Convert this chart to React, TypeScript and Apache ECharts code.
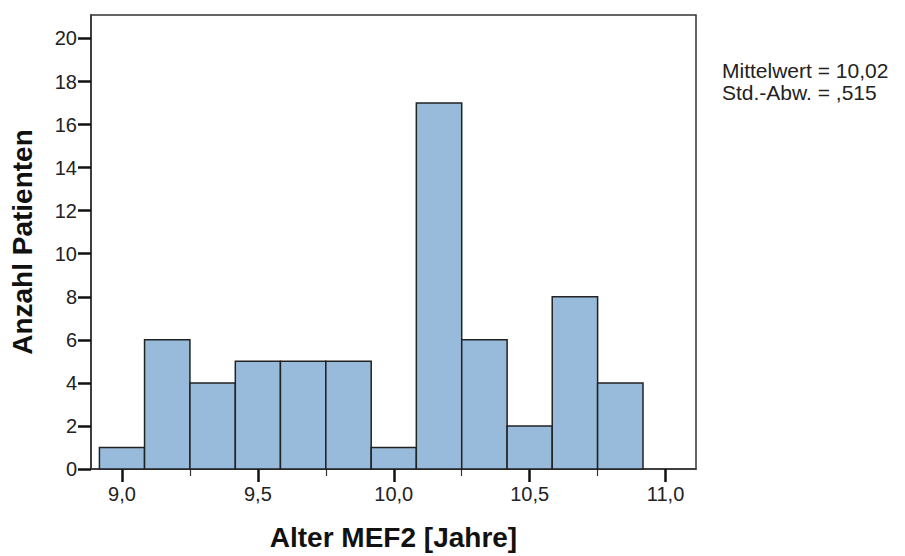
import React, { useEffect, useRef } from "react";
import * as echarts from "echarts";

const binEdges = [8.917, 9.083, 9.25, 9.417, 9.583, 9.75, 9.917, 10.083, 10.25, 10.417, 10.583, 10.75, 10.917];
const counts = [1, 6, 4, 5, 5, 5, 1, 17, 6, 2, 8, 4];
const xMajorTicks = [9.0, 9.5, 10.0, 10.5, 11.0];
const xMinorTicks = [9.25, 9.75, 10.25, 10.75];
const yTicks = [0, 2, 4, 6, 8, 10, 12, 14, 16, 18, 20];
const statLines = ["Mittelwert = 10,02", "Std.-Abw. = ,515"];

const X_MIN = 8.886;
const X_MAX = 11.112;
const Y_MAX = 21.09;

const fmt = (v: number) => v.toFixed(1).replace(".", ",");

export default function App() {
  const ref = useRef<HTMLDivElement>(null);
  useEffect(() => {
    if (!ref.current) return;
    const chart = echarts.init(ref.current, null, { renderer: "svg" });
    const data = counts.map((c, i) => [binEdges[i], binEdges[i + 1], c]);
    const font = "'Liberation Sans', Arial, sans-serif";
    chart.setOption({
      animation: false,
      backgroundColor: "#ffffff",
      textStyle: { fontFamily: font },
      grid: {
        left: 91,
        top: 15,
        right: 209,
        bottom: 84,
        show: true,
        borderColor: "#333",
        borderWidth: 1.5,
        containLabel: false,
      },
      xAxis: [
        {
          type: "value",
          min: X_MIN,
          max: X_MAX,
          splitLine: { show: false },
          axisLine: { show: true, lineStyle: { color: "#333", width: 1.5 } },
          axisTick: {
            show: true,
            customValues: xMajorTicks,
            length: 13,
            lineStyle: { color: "#111", width: 2.5 },
          },
          axisLabel: {
            customValues: xMajorTicks,
            formatter: (v: number) => fmt(v),
            margin: 15,
            fontSize: 20,
            color: "#222",
            fontFamily: font,
          },
          name: "Alter MEF2 [Jahre]",
          nameLocation: "middle",
          nameGap: 54,
          nameTextStyle: { fontSize: 28, fontWeight: "bold", color: "#111", fontFamily: font },
        },
        {
          type: "value",
          min: X_MIN,
          max: X_MAX,
          position: "bottom",
          splitLine: { show: false },
          axisLine: { show: false },
          axisTick: {
            show: true,
            customValues: xMinorTicks,
            length: 7,
            lineStyle: { color: "#333", width: 1.2 },
          },
          axisLabel: { show: false },
        },
      ],
      yAxis: {
        type: "value",
        min: 0,
        max: Y_MAX,
        splitLine: { show: false },
        axisLine: { show: true, lineStyle: { color: "#333", width: 1.5 } },
        axisTick: {
          show: true,
          customValues: yTicks,
          length: 13,
          lineStyle: { color: "#111", width: 2.5 },
        },
        axisLabel: {
          customValues: yTicks,
          margin: 14,
          fontSize: 20,
          color: "#222",
          fontFamily: font,
        },
        name: "Anzahl Patienten",
        nameLocation: "middle",
        nameGap: 55,
        nameTextStyle: { fontSize: 28, fontWeight: "bold", color: "#111", fontFamily: font },
      },
      graphic: statLines.map((line, i) => ({
        type: "text",
        left: 722,
        top: 59.5 + i * 22,
        style: {
          text: line,
          fontSize: 21,
          lineHeight: 21,
          fill: "#222",
          fontFamily: font,
        },
      })),
      series: [
        {
          type: "custom",
          xAxisIndex: 0,
          yAxisIndex: 0,
          encode: { x: [0, 1], y: 2 },
          data,
          renderItem: (_params: any, api: any) => {
            const p0 = api.coord([api.value(0), api.value(2)]);
            const p1 = api.coord([api.value(1), 0]);
            return {
              type: "rect",
              shape: { x: p0[0], y: p0[1], width: p1[0] - p0[0], height: p1[1] - p0[1] },
              style: { fill: "#98bbdc", stroke: "#222", lineWidth: 1.5 },
            };
          },
        },
      ],
    });
    return () => chart.dispose();
  }, []);
  return (
    <div
      ref={ref}
      style={{ position: "fixed", left: 0, top: 0, width: 905, height: 556, background: "#fff" }}
    />
  );
}
